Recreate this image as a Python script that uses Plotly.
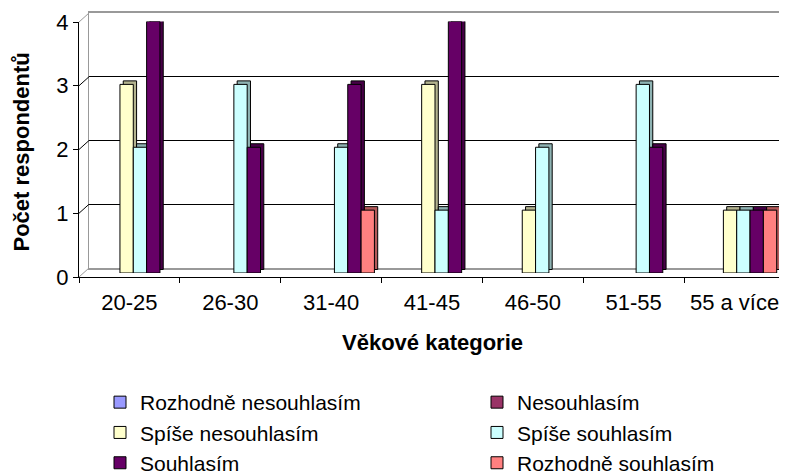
import plotly.graph_objects as go

# ---- data ----
categories = ["20-25", "26-30", "31-40", "41-45", "46-50", "51-55", "55 a více"]
series_names = ["Rozhodně nesouhlasím", "Nesouhlasím", "Spíše nesouhlasím",
                "Spíše souhlasím", "Souhlasím", "Rozhodně souhlasím"]
rozhodne_nesouhlasim = [0, 0, 0, 0, 0, 0, 0]
nesouhlasim = [0, 0, 0, 0, 0, 0, 0]
spise_nesouhlasim = [3, 0, 0, 3, 1, 0, 1]
spise_souhlasim = [2, 3, 2, 1, 2, 3, 1]
souhlasim = [4, 2, 3, 4, 0, 2, 1]
rozhodne_souhlasim = [0, 0, 1, 0, 0, 0, 1]
y_ticks = [0, 1, 2, 3, 4]
x_title = "Věkové kategorie"
y_title = "Počet respondentů"

series_values = [rozhodne_nesouhlasim, nesouhlasim, spise_nesouhlasim,
                 spise_souhlasim, souhlasim, rozhodne_souhlasim]
front_colors = ["#9999FF", "#993366", "#FFFFCC", "#CCFFFF", "#660066", "#FF8080"]
side_colors = ["#6B6BB3", "#6B2447", "#B3B38F", "#8FB3B3", "#470047", "#B35A5A"]

FONT = "Liberation Sans, Arial, sans-serif"
PAGE_W, PAGE_H = 787, 475
OFF = 8  # default body margin of the page
W, H = PAGE_W - OFF, PAGE_H - OFF
# plot area in page pixels: x 79..787, y 10..280
P_X0, P_X1, P_Y0, P_Y1 = 79, 787, 10, 280
L, R, T, B = P_X0 - OFF, PAGE_W - P_X1, P_Y0 - OFF, PAGE_H - P_Y1
PW, PH = P_X1 - P_X0, P_Y1 - P_Y0


def fx(px):  # page px -> paper x
    return (px - P_X0) / PW


def fy(py):  # page px -> paper y
    return (P_Y1 - py) / PH


def cx(px):  # page px -> container x
    return (px - OFF) / W


def cy(py):  # page px -> container y
    return 1 - (py - OFF) / H


ymax = y_ticks[-1]
ncat = len(categories)

fig = go.Figure()

# empty trace so that the back wall (x/y) gets drawn
fig.add_trace(go.Scatter(x=[None], y=[None], xaxis="x", yaxis="y",
                         showlegend=False, hoverinfo="skip"))

# shadow (depth) bars on x2/y2, front bars on x3/y3
for name, vals, col in zip(series_names, series_values, side_colors):
    fig.add_trace(go.Bar(
        x=list(range(ncat)), y=[v if v else None for v in vals],
        marker=dict(color=col, line=dict(color="black", width=1)),
        xaxis="x2", yaxis="y2", showlegend=False, hoverinfo="skip"))
for i, (name, vals, col) in enumerate(zip(series_names, series_values, front_colors)):
    fig.add_trace(go.Bar(
        x=list(range(ncat)), y=[v if v else None for v in vals], name=name,
        marker=dict(color=col, line=dict(color="black", width=1)),
        xaxis="x3", yaxis="y3", legend="legend" if i % 2 == 0 else "legend2"))

# empty trace so that the front axes (x4/y4) get drawn
fig.add_trace(go.Scatter(x=[None], y=[None], xaxis="x4", yaxis="y4",
                         showlegend=False, hoverinfo="skip"))

# geometry of the pseudo-3D planes (page pixels)
bar_x0, bar_x1 = 83, 787
bar_y0, bar_y1 = 273, 21.5
px_per_cat = (bar_x1 - bar_x0) / ncat
px_per_unit = (bar_y0 - bar_y1) / ymax
dx = 3.3 / px_per_cat
dy = 3.5 / px_per_unit

front_x0, front_x1 = 79, 785
front_y0, front_y1 = 277, 22
back_x0 = 89
back_y0, back_y1 = 268, 13

hidden = dict(showgrid=False, zeroline=False, showticklabels=False, ticks="", showline=False)
legend_common = dict(orientation="v", xref="container", yref="container",
                     xanchor="left", yanchor="top", traceorder="normal",
                     font=dict(size=21), bgcolor="rgba(0,0,0,0)")

fig.update_layout(
    width=W, height=H,
    margin=dict(l=L, r=R, t=T, b=B, autoexpand=False),
    paper_bgcolor="white", plot_bgcolor="rgba(0,0,0,0)",
    font=dict(family=FONT, size=22, color="black"),
    barmode="group", bargap=0.205, bargroupgap=0,
    # back wall
    xaxis=dict(domain=[fx(back_x0), 1], range=[-0.5, ncat - 0.5], anchor="y",
               showgrid=False, zeroline=False, showticklabels=False, ticks="",
               showline=True, linecolor="#999999", linewidth=2, mirror=True),
    yaxis=dict(domain=[fy(back_y0), fy(back_y1)], range=[0, ymax], anchor="x",
               tickvals=y_ticks[1:-1], showgrid=True, gridcolor="black", gridwidth=1,
               zeroline=False, showticklabels=False, ticks="",
               showline=True, linecolor="#999999", linewidth=1),
    # shadows
    xaxis2=dict(domain=[fx(bar_x0), fx(bar_x1)], range=[-0.5 - dx, ncat - 0.5 - dx],
                anchor="y2", **hidden),
    yaxis2=dict(domain=[fy(bar_y0), fy(bar_y1)], range=[-dy, ymax - dy], anchor="x2", **hidden),
    # front bars
    xaxis3=dict(domain=[fx(bar_x0), fx(bar_x1)], range=[-0.5, ncat - 0.5], anchor="y3", **hidden),
    yaxis3=dict(domain=[fy(bar_y0), fy(bar_y1)], range=[0, ymax], anchor="x3", **hidden),
    # front axes
    xaxis4=dict(domain=[fx(front_x0), fx(front_x1)], range=[-0.5, ncat - 0.5], anchor="y4",
                tickvals=list(range(ncat)), ticktext=categories, ticks="",
                minor=dict(tickvals=[i - 0.5 for i in range(ncat + 1)], ticks="outside",
                           ticklen=5, tickcolor="black", showgrid=False),
                showgrid=False, zeroline=False, showline=True, linecolor="black", linewidth=1,
                tickfont=dict(size=22), ticklabelstandoff=6),
    yaxis4=dict(domain=[fy(front_y0), fy(front_y1)], range=[0, ymax], anchor="x4",
                tickvals=y_ticks, ticks="outside", ticklen=5, tickcolor="black",
                showgrid=False, zeroline=False, showline=True, linecolor="black", linewidth=1,
                tickfont=dict(size=22)),
    legend=dict(x=cx(100), y=cy(382), **legend_common),
    legend2=dict(x=cx(477), y=cy(382), **legend_common),
    annotations=[
        dict(text="<b>" + x_title + "</b>", xref="paper", yref="paper",
             x=(fx(front_x0) + fx(front_x1)) / 2, y=fy(342), xanchor="center", yanchor="middle",
             showarrow=False, font=dict(size=22)),
        dict(text="<b>" + y_title + "</b>", xref="paper", yref="paper",
             x=fx(20.5), y=fy(152), xanchor="center", yanchor="middle", textangle=-90,
             showarrow=False, font=dict(size=22)),
    ],
)

# side-wall connectors between front axis ticks and back wall
shapes = []
for v in y_ticks:
    yf = fy(front_y0 + (front_y1 - front_y0) * v / ymax)
    yb = fy(back_y0 + (back_y1 - back_y0) * v / ymax)
    col = "black" if 0 < v < ymax else "#999999"
    shapes.append(dict(type="line", xref="paper", yref="paper",
                       x0=fx(front_x0), y0=yf, x1=fx(back_x0), y1=yb,
                       line=dict(color=col, width=1)))
fig.update_layout(shapes=shapes)

fig.write_html("out.html")
